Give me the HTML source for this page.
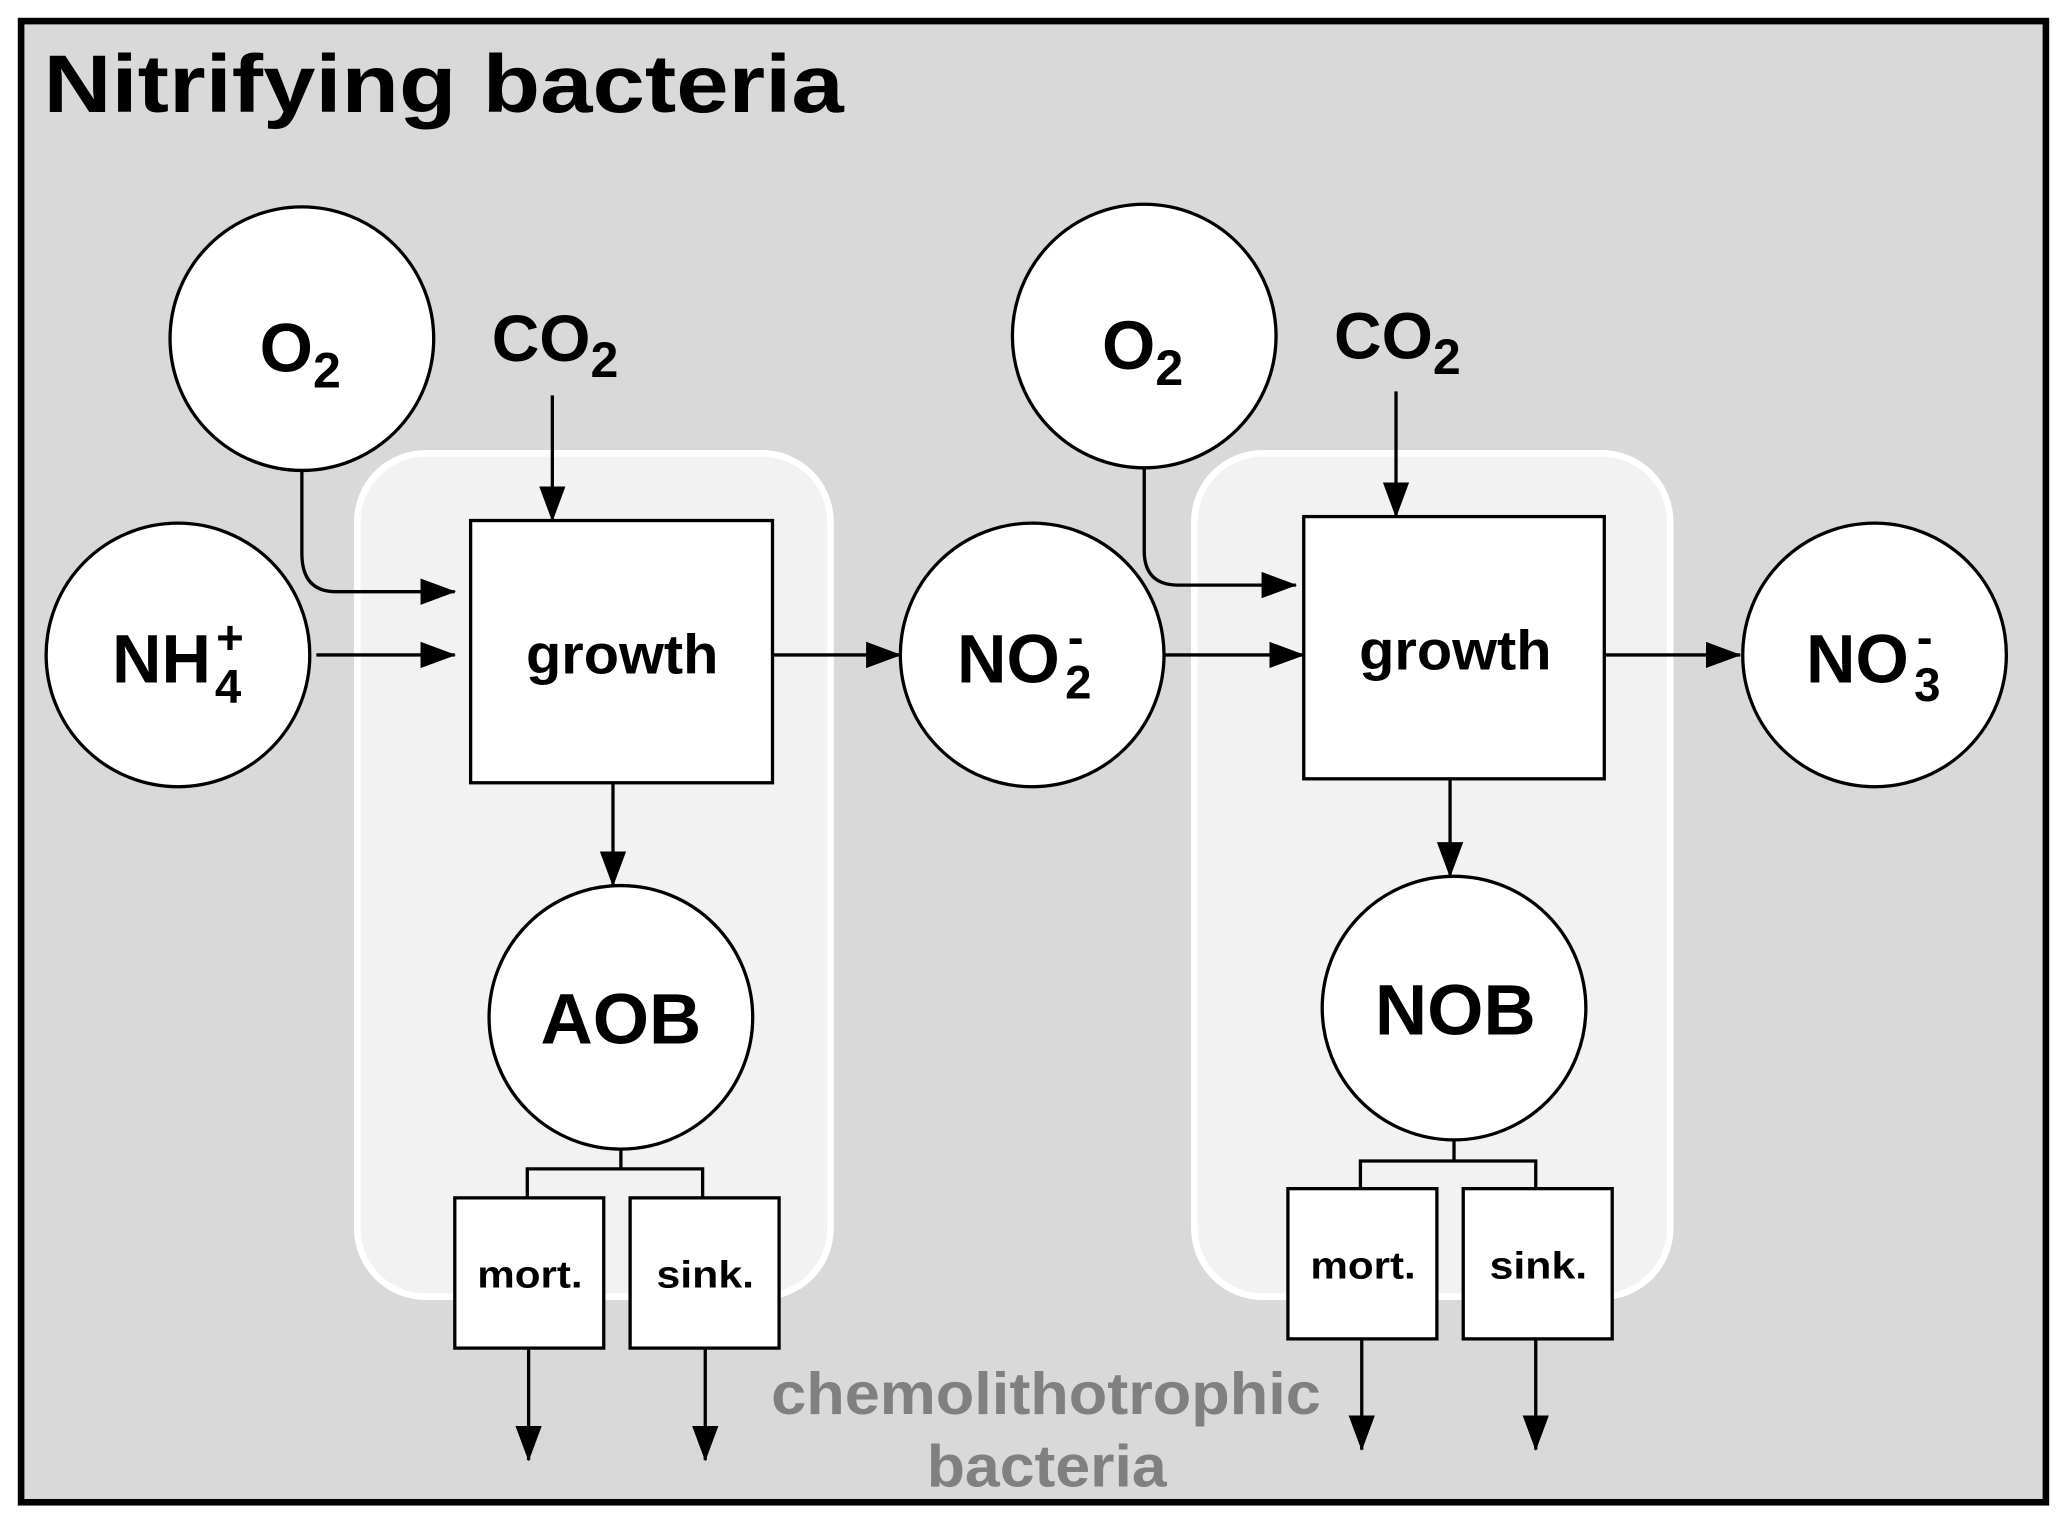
<!DOCTYPE html>
<html><head><meta charset="utf-8"><style>
html,body{margin:0;padding:0;background:#fff;}
svg{display:block;}
text{font-family:"Liberation Sans",Arial,sans-serif;font-weight:bold;fill:#000;}
</style></head><body>
<svg width="2067" height="1526" viewBox="0 0 1568 1158" preserveAspectRatio="none" xmlns="http://www.w3.org/2000/svg">
<defs>
<marker id="a" markerWidth="28" markerHeight="22" refX="26" refY="11" orient="auto" markerUnits="userSpaceOnUse">
<path d="M0,1 L27,11 L0,21 Z" fill="#000"/>
</marker>
</defs>
<rect x="0" y="0" width="1568" height="1158" fill="#fff"/>
<rect x="16" y="16" width="1536" height="1124" fill="#d9d9d9" stroke="#000" stroke-width="5"/>
<text x="33" y="85" font-size="62" textLength="607" lengthAdjust="spacingAndGlyphs">Nitrifying bacteria</text>
<rect x="271" y="344" width="359" height="640" rx="52" fill="#f2f2f2" stroke="#fff" stroke-width="5"/>
<rect x="906" y="344" width="361" height="640" rx="52" fill="#f2f2f2" stroke="#fff" stroke-width="5"/>
<g fill="#fff" stroke="#000" stroke-width="2.5">
<circle cx="229" cy="257" r="100"/>
<circle cx="135" cy="497" r="100"/>
<circle cx="783" cy="497" r="100"/>
<circle cx="868" cy="255" r="100"/>
<circle cx="1422" cy="497" r="100"/>
<circle cx="471" cy="772" r="100"/>
<circle cx="1103" cy="765" r="100"/>
<rect x="357" y="395" width="229" height="199"/>
<rect x="989" y="392" width="228" height="199"/>
<rect x="345" y="909" width="113" height="114"/>
<rect x="478" y="909" width="113" height="114"/>
<rect x="977" y="902" width="113" height="114"/>
<rect x="1110" y="902" width="113" height="114"/>
</g>
<g stroke="#000" stroke-width="2.5" fill="none">
<line x1="419" y1="300" x2="419" y2="395" marker-end="url(#a)"/>
<line x1="1059" y1="297" x2="1059" y2="392" marker-end="url(#a)"/>
<path d="M229,357 V420 Q229,449 255,449 H345" marker-end="url(#a)"/>
<path d="M868,355 V418 Q868,444 894,444 H983" marker-end="url(#a)"/>
<line x1="240" y1="497" x2="345" y2="497" marker-end="url(#a)"/>
<line x1="586" y1="497" x2="683" y2="497" marker-end="url(#a)"/>
<line x1="883" y1="497" x2="989" y2="497" marker-end="url(#a)"/>
<line x1="1217" y1="497" x2="1320" y2="497" marker-end="url(#a)"/>
<line x1="465" y1="594" x2="465" y2="672" marker-end="url(#a)"/>
<line x1="1100" y1="591" x2="1100" y2="665" marker-end="url(#a)"/>
<path d="M471,872 V887 M400,909 V887 H533 V909"/>
<path d="M1103,865 V881 M1032,902 V881 H1165 V902"/>
<line x1="401" y1="1023" x2="401" y2="1108" marker-end="url(#a)"/>
<line x1="535" y1="1023" x2="535" y2="1108" marker-end="url(#a)"/>
<line x1="1033" y1="1016" x2="1033" y2="1100" marker-end="url(#a)"/>
<line x1="1165" y1="1016" x2="1165" y2="1100" marker-end="url(#a)"/>
</g>
<text x="197" y="282" font-size="52">O<tspan font-size="38" dy="12">2</tspan></text>
<text x="836" y="280" font-size="52">O<tspan font-size="38" dy="12">2</tspan></text>
<text x="373" y="274" font-size="50">CO<tspan font-size="38" dy="12">2</tspan></text>
<text x="1012" y="272" font-size="50">CO<tspan font-size="38" dy="12">2</tspan></text>
<text x="85" y="518" font-size="52">NH</text>
<text x="164" y="496" font-size="36">+</text>
<text x="163" y="533" font-size="36">4</text>
<text x="726" y="518" font-size="52">NO</text>
<text x="810" y="496" font-size="36">-</text>
<text x="808" y="530" font-size="36">2</text>
<text x="1370" y="518" font-size="52">NO</text>
<text x="1454" y="496" font-size="36">-</text>
<text x="1452" y="532" font-size="36">3</text>
<text x="399" y="511" font-size="42" textLength="146" lengthAdjust="spacingAndGlyphs">growth</text>
<text x="1031" y="508" font-size="42" textLength="146" lengthAdjust="spacingAndGlyphs">growth</text>
<text x="410" y="792" font-size="54" textLength="122" lengthAdjust="spacingAndGlyphs">AOB</text>
<text x="1043" y="785" font-size="54" textLength="122" lengthAdjust="spacingAndGlyphs">NOB</text>
<text x="362" y="977" font-size="29" textLength="80" lengthAdjust="spacingAndGlyphs">mort.</text>
<text x="498" y="977" font-size="29" textLength="74" lengthAdjust="spacingAndGlyphs">sink.</text>
<text x="994" y="970" font-size="29" textLength="80" lengthAdjust="spacingAndGlyphs">mort.</text>
<text x="1130" y="970" font-size="29" textLength="74" lengthAdjust="spacingAndGlyphs">sink.</text>
<text x="585" y="1073" font-size="45" textLength="417" lengthAdjust="spacingAndGlyphs" style="fill:#808080">chemolithotrophic</text>
<text x="703" y="1128" font-size="45" textLength="182" lengthAdjust="spacingAndGlyphs" style="fill:#808080">bacteria</text>
</svg>
</body></html>
